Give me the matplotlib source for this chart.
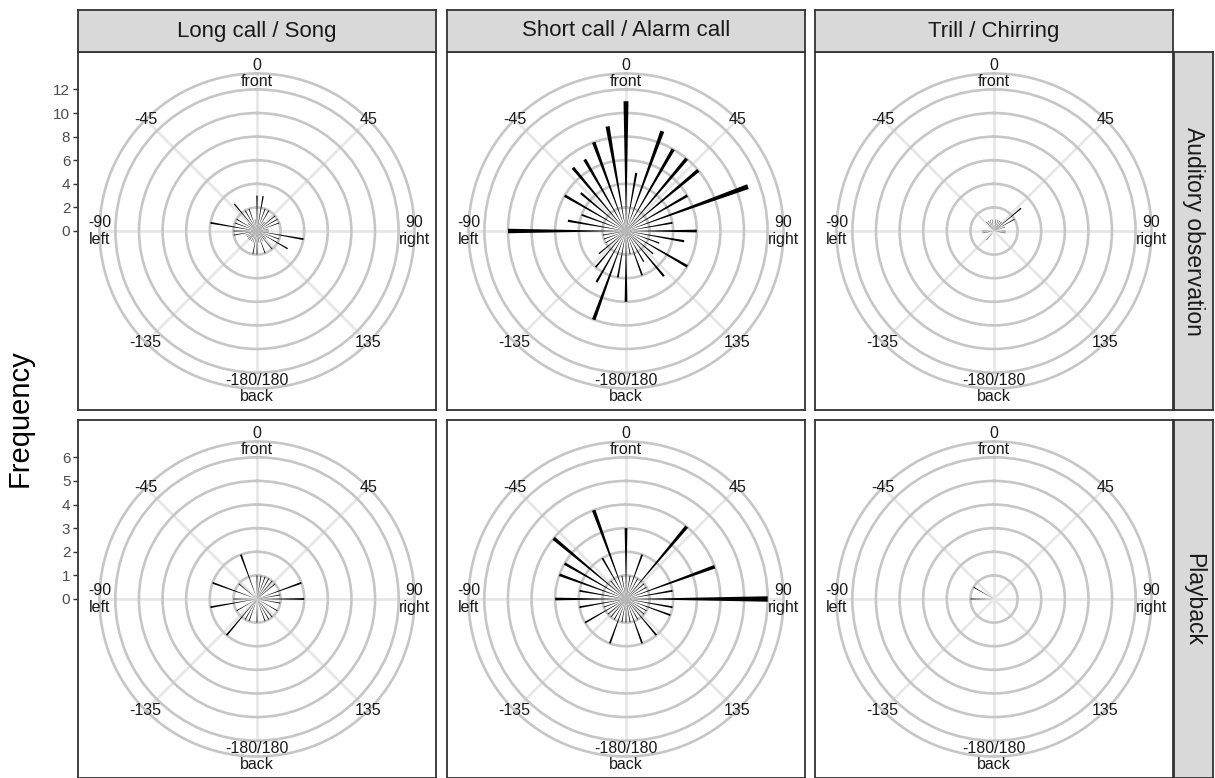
import numpy as np
import matplotlib
matplotlib.use("Agg")
import matplotlib.pyplot as plt

plt.rcParams["font.family"] = ["Liberation Sans", "DejaVu Sans"]

# head orientation bins (degrees, 0 = front, positive = right)
angles = [-180, -170, -160, -150, -140, -130, -120, -110, -100, -90,
          -80, -70, -60, -50, -40, -30, -20, -10, 0, 10,
          20, 30, 40, 50, 60, 70, 80, 90, 100, 110,
          120, 130, 140, 150, 160, 170]

call_types = ["Long call / Song", "Short call / Alarm call", "Trill / Chirring"]
methods = ["Auditory observation", "Playback"]

# counts per bin, one list per facet
song_auditory = [2, 2, 1, 1, 1, 1, 1, 1, 2, 2,
                 4, 2, 2, 1, 3, 2, 2, 1, 3, 3,
                 2, 2, 1, 2, 2, 2, 1, 1, 4, 2,
                 3, 1, 2, 1, 2, 1]
alarm_auditory = [6, 4, 8, 5, 4, 3, 2, 2, 2, 10,
                  5, 4, 6, 5, 7, 7, 8, 9, 11, 5,
                  9, 8, 8, 8, 6, 11, 4, 6, 5, 3,
                  6, 3, 5, 3, 4, 2]
trill_auditory = [0, 0, 0, 0, 1, 0, 0, 0, 1, 1,
                  0, 0, 0, 0, 1, 1, 1, 1, 0, 1,
                  1, 1, 1, 3, 2, 1, 0, 1, 1, 0,
                  0, 0, 0, 0, 0, 0]
song_playback = [1, 0, 1, 1, 2, 0, 1, 0, 2, 1,
                 0, 2, 0, 1, 0, 0, 2, 0, 1, 1,
                 1, 1, 1, 1, 0, 2, 1, 2, 1, 0,
                 1, 0, 1, 1, 1, 0]
alarm_playback = [1, 1, 2, 1, 1, 1, 2, 1, 2, 3,
                  2, 3, 3, 4, 1, 2, 4, 1, 3, 1,
                  2, 1, 4, 1, 1, 4, 2, 6, 2, 2,
                  1, 1, 2, 1, 2, 1]
trill_playback = [0, 0, 0, 0, 0, 0, 0, 0, 0, 1,
                  0, 0, 1, 0, 0, 0, 0, 0, 0, 0,
                  0, 0, 0, 0, 0, 0, 0, 0, 0, 0,
                  0, 0, 0, 0, 0, 0]

counts = [[song_auditory, alarm_auditory, trill_auditory],
          [song_playback, alarm_playback, trill_playback]]

r_breaks = [[0, 2, 4, 6, 8, 10, 12], [0, 1, 2, 3, 4, 5, 6]]
r_outer = [13.35, 6.67]

theta_breaks = [0, 45, 90, 135, 180, -135, -90, -45]
theta_labels = ["0\nfront", "45", "90\nright", "135", "-180/180\nback",
                "-135", "-90\nleft", "-45"]

W, H = 1215, 778
P = 358          # panel side, px
R_PX = 157.5     # outer circle radius, px
col_x = [78, 447, 815]
row_y = [52, 420]
STRIP = 42

dark = "#333333"
ring = "#C6C6C6"
spoke = "#E6E6E6"


def box(x0, y0, w, h):
    return [x0 / W, 1 - (y0 + h) / H, w / W, h / H]


def to_rad(deg):
    # wrap to [0, 2pi) so the polar view stays a full circle
    return np.deg2rad(np.mod(deg, 360))


fig = plt.figure(figsize=(W / 100, H / 100), dpi=100)

for i, method in enumerate(methods):
    for j, call in enumerate(call_types):
        x0, y0 = col_x[j], row_y[i]
        rmax = r_outer[i]
        half = rmax * (P / 2) / R_PX

        # panel frame, carries the radial axis on the left column
        frame = fig.add_axes(box(x0, y0, P, P))
        frame.set_xlim(-half, half)
        frame.set_ylim(-half, half)
        frame.set_xticks([])
        for s in frame.spines.values():
            s.set_color(dark)
            s.set_linewidth(1.3)
        if j == 0:
            frame.set_yticks(r_breaks[i])
            frame.tick_params(axis="y", length=3.5, width=1.0, color=dark,
                              labelsize=11, labelcolor="#4D4D4D", pad=2)
        else:
            frame.set_yticks([])

        cx, cy = x0 + P / 2, y0 + P / 2
        ax = fig.add_axes(box(cx - R_PX, cy - R_PX, 2 * R_PX, 2 * R_PX),
                          projection="polar")
        ax.patch.set_alpha(0)
        ax.set_theta_zero_location("N")
        ax.set_theta_direction(-1)
        ax.set_axisbelow(True)

        ax.bar(to_rad(angles), counts[i][j], width=np.deg2rad(2.2),
               bottom=0, color="black", linewidth=0, zorder=3)

        ax.set_xticks(to_rad(theta_breaks))
        ax.set_xticklabels([])
        ax.set_thetalim(0, 2 * np.pi)
        ax.set_ylim(0, rmax)
        ax.set_yticks(r_breaks[i][1:])
        ax.set_yticklabels([])
        ax.yaxis.grid(True, color=ring, linewidth=1.9)
        ax.xaxis.grid(True, color=spoke, linewidth=1.9)
        ax.spines["polar"].set_color(ring)
        ax.spines["polar"].set_linewidth(1.9)
        ax.tick_params(length=0)

        for a, lab in zip(theta_breaks, theta_labels):
            ax.text(to_rad(a), rmax, lab, ha="center", va="center",
                    fontsize=11.5, color="#1A1A1A", linespacing=1.1,
                    clip_on=False, zorder=4)

        # column strips
        if i == 0:
            st = fig.add_axes(box(x0, y0 - STRIP, P, STRIP))
            st.set_facecolor("#D9D9D9")
            st.set_xticks([])
            st.set_yticks([])
            for s in st.spines.values():
                s.set_color(dark)
                s.set_linewidth(1.3)
            st.text(0.5, 0.5, call, ha="center", va="center", fontsize=16,
                    color="#1A1A1A", transform=st.transAxes)

    # row strips
    st = fig.add_axes(box(col_x[2] + P + 1, row_y[i], 39, P))
    st.set_facecolor("#D9D9D9")
    st.set_xticks([])
    st.set_yticks([])
    for s in st.spines.values():
        s.set_color(dark)
        s.set_linewidth(1.3)
    st.text(0.5, 0.5, method, ha="center", va="center", fontsize=16.5,
            rotation=-90, color="#1A1A1A", transform=st.transAxes)

fig.text(20 / W, 1 - 418 / H, "Frequency", rotation=90, ha="center",
         va="center", fontsize=21, color="black")

fig.savefig("out.png", dpi=100)
